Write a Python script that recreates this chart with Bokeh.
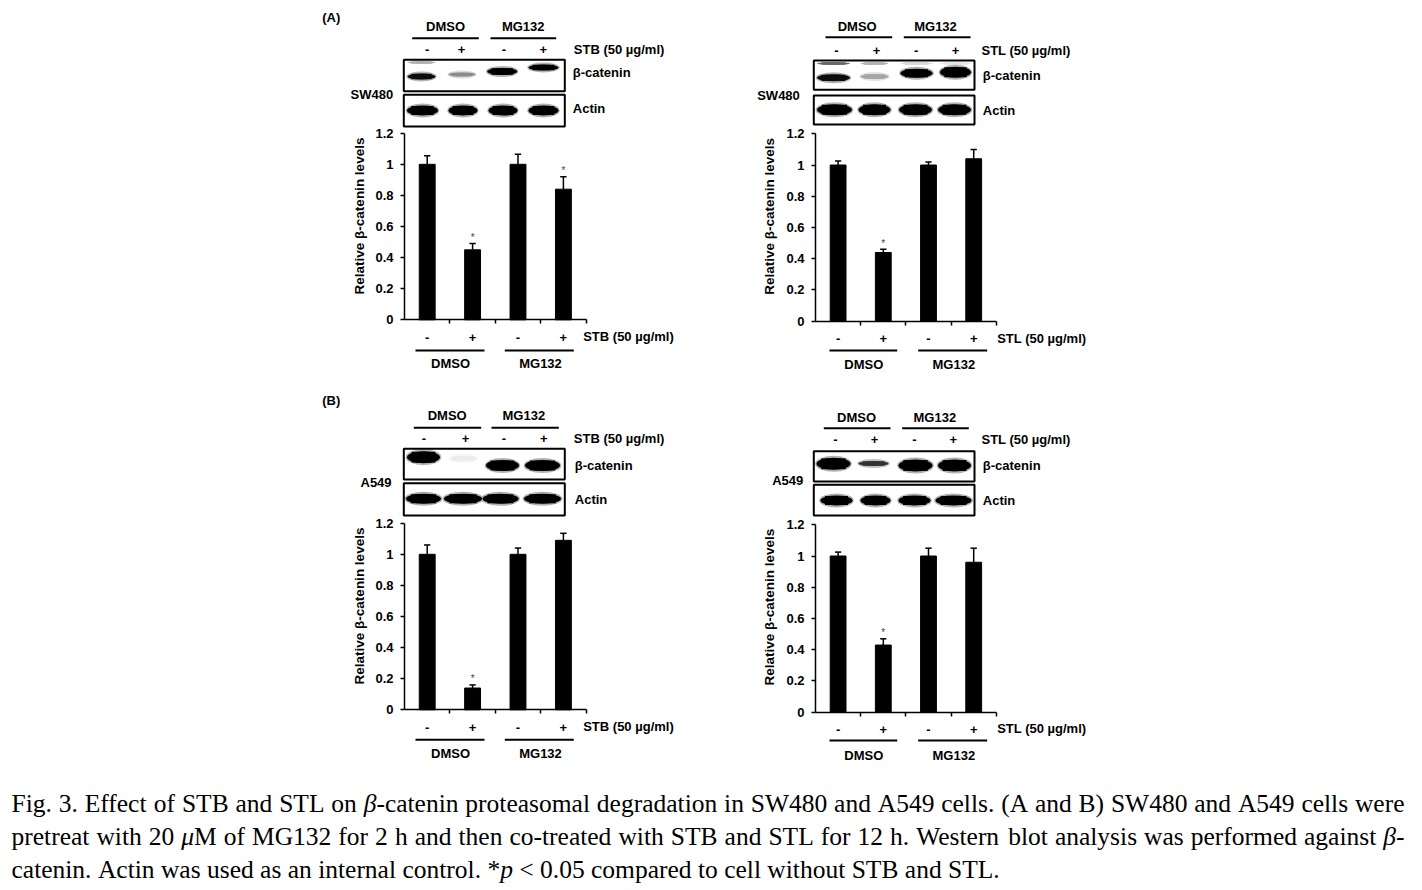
import math
from bokeh.plotting import figure
from bokeh.models import Range1d, LinearAxis, FixedTicker
from bokeh.core.properties import value
from bokeh.embed import file_html
from bokeh.resources import INLINE

# ====================== DATA ======================
treat_signs = ["-", "+", "-", "+"]
group_names = ["DMSO", "MG132"]
proteins = ["β-catenin", "Actin"]
y_label = "Relative β-catenin levels"
y_ticks = [0, 0.2, 0.4, 0.6, 0.8, 1.0, 1.2]
y_tick_labels = ["0", "0.2", "0.4", "0.6", "0.8", "1", "1.2"]

# relative beta-catenin levels, upper error bars, significance (*)
sw480_stb = [1.00, 0.45, 1.00, 0.84]
sw480_stb_err = [0.055, 0.04, 0.065, 0.08]
sw480_stb_sig = [False, True, False, True]

sw480_stl = [1.00, 0.44, 1.00, 1.04]
sw480_stl_err = [0.025, 0.02, 0.02, 0.06]
sw480_stl_sig = [False, True, False, False]

a549_stb = [1.00, 0.14, 1.00, 1.09]
a549_stb_err = [0.06, 0.02, 0.04, 0.045]
a549_stb_sig = [False, True, False, False]

a549_stl = [1.00, 0.43, 1.00, 0.96]
a549_stl_err = [0.025, 0.04, 0.05, 0.09]
a549_stl_sig = [False, True, False, False]

# western blot band intensities (0 = none, 1 = saturated)
sw480_stb_bcat = [0.95, 0.45, 1.0, 1.0]
sw480_stb_upper = [0.3, 0.0, 0.0, 0.0]
sw480_stb_actin = [1.0, 1.0, 1.0, 1.0]
sw480_stl_bcat = [0.95, 0.35, 1.0, 1.0]
sw480_stl_upper = [0.6, 0.3, 0.15, 0.1]
sw480_stl_actin = [1.0, 1.0, 1.0, 1.0]
a549_stb_bcat = [1.0, 0.07, 1.0, 1.0]
a549_stb_upper = [0.0, 0.0, 0.0, 0.0]
a549_stb_actin = [1.0, 1.0, 1.0, 1.0]
a549_stl_bcat = [1.0, 0.8, 1.0, 1.0]
a549_stl_upper = [0.0, 0.0, 0.0, 0.0]
a549_stl_actin = [1.0, 1.0, 1.0, 1.0]

caption_lines = [
    [("Fig. 3. Effect of STB and STL on ", "n"), ("β", "i"),
     ("-catenin proteasomal degradation in SW480 and A549 cells. (A and B) SW480 and A549 cells were", "n")],
    [("pretreat with 20 ", "n"), ("μ", "i"),
     ("M of MG132 for 2 h and then co-treated with STB and STL for 12 h. Western blot analysis was performed against ", "n"),
     ("β", "i"), ("-", "n")],
    [("catenin. Actin was used as an internal control. *", "n"), ("p", "i"),
     (" < 0.05 compared to cell without STB and STL.", "n")],
]
caption_justify = [True, True, False]

# ====================== LAYOUT ======================
FX0, FX1, FY0, FY1 = 0, 1420, 0, 888
W, H = FX1 - FX0, FY1 - FY0

p = figure(width=W, height=H, x_range=Range1d(FX0, FX1), y_range=Range1d(FY1, FY0),
           x_axis_type=None, y_axis_type=None, toolbar_location=None,
           output_backend="svg", min_border=0, outline_line_color=None, title=None)
p.background_fill_color = "white"
p.border_fill_color = "white"

SANS = value("Liberation Sans")
SERIF = value("Liberation Serif")


def label(xs, ys, texts, align="left", size="13px", style="bold", **kw):
    p.text(x=xs, y=ys, text=texts, text_font=SANS, text_font_size=size,
           text_font_style=style, text_align=align, text_baseline="middle",
           text_color="black", **kw)


def gray(i):
    g = int(round(255 * (1 - max(0.0, min(1.0, i)))))
    return "#%02x%02x%02x" % (g, g, g)


panels = [
    dict(key="A1", vals=sw480_stb, err=sw480_stb_err, sig=sw480_stb_sig,
         bcat=sw480_stb_bcat, upper=sw480_stb_upper, actin=sw480_stb_actin,
         cell="SW480", treat="STB (50 µg/ml)",
         tag="(A)", tag_xy=(321.7, 16.7), cell_xy=(350, 94),
         grp_y=26, grp_x=[445, 522.7], gl_y=37.7, glines=[(411.7, 478.3), (490, 555.7)],
         sign_y=49.3, sign_x=[426.7, 461, 503.3, 542.7], treat_xy=(573.3, 49.3),
         box_x=(403.3, 564.3), bbox=(59.3, 90.7), abox=(94.3, 126),
         prot_x=572.3, prot_y=[71.7, 108.3],
         b_x=[421, 461.5, 501.7, 543], b_w=[28, 27, 30, 30], b_y=[76, 74, 71, 67], b_h=[6, 4, 7, 6],
         u_y=62,
         a_x=[422, 462.5, 502.5, 543], a_w=[31, 29, 29, 30], a_y=[110] * 4, a_h=[10, 10, 10, 10],
         X0=404, cw=45.4, Y0=319.3, uh=155.5, ylab_xy=(359, 215.5),
         btreat_xy=(582.7, 336), bl_y=350, blines=[(415, 484), (504.3, 573.3)],
         bgrp_y=363.3, bgrp_x=[450, 540]),
    dict(key="A2", vals=sw480_stl, err=sw480_stl_err, sig=sw480_stl_sig,
         bcat=sw480_stl_bcat, upper=sw480_stl_upper, actin=sw480_stl_actin,
         cell="SW480", treat="STL (50 µg/ml)",
         tag=None, tag_xy=None, cell_xy=(756.7, 95),
         grp_y=26, grp_x=[856.7, 935], gl_y=36.7, glines=[(825, 891.7), (903.3, 970)],
         sign_y=50, sign_x=[836, 876, 915.7, 955], treat_xy=(981, 50),
         box_x=(813.3, 974), bbox=(60, 89.3), abox=(95, 124),
         prot_x=982.3, prot_y=[75, 110],
         b_x=[833, 874, 916, 955], b_w=[33, 28, 32, 31], b_y=[77.3, 76, 72.7, 71.7], b_h=[7, 5, 9, 11],
         u_y=63,
         a_x=[834, 874, 915, 954], a_w=[35, 32, 33, 33], a_y=[109.3] * 4, a_h=[11, 11, 11, 11],
         X0=815, cw=45.2, Y0=320.7, uh=156.2, ylab_xy=(769, 215.8),
         btreat_xy=(996.7, 338.3), bl_y=350, blines=[(829, 896.7), (917.7, 986.7)],
         bgrp_y=364.3, bgrp_x=[863.3, 953.3]),
    dict(key="B1", vals=a549_stb, err=a549_stb_err, sig=a549_stb_sig,
         bcat=a549_stb_bcat, upper=a549_stb_upper, actin=a549_stb_actin,
         cell="A549", treat="STB (50 µg/ml)",
         tag="(B)", tag_xy=(321.7, 400), cell_xy=(360, 481.7),
         grp_y=415, grp_x=[446.7, 523.3], gl_y=427.3, glines=[(413.3, 480.7), (491, 558.3)],
         sign_y=438.3, sign_x=[423.3, 465, 503.3, 543.3], treat_xy=(573.3, 438.3),
         box_x=(403.3, 564.3), bbox=(448.3, 479), abox=(482.7, 515),
         prot_x=574.3, prot_y=[465, 499.3],
         b_x=[423, 463, 502, 542], b_w=[33, 28, 33, 35], b_y=[456.7, 458, 465, 465], b_h=[12, 6, 11, 11],
         u_y=451,
         a_x=[423, 462.5, 500, 542], a_w=[35, 38, 36, 37], a_y=[498.3] * 4, a_h=[10, 10, 10, 10],
         X0=404, cw=45.4, Y0=709.3, uh=155.5, ylab_xy=(359, 605.5),
         btreat_xy=(582.7, 726), bl_y=739.3, blines=[(415, 484), (504.3, 573.3)],
         bgrp_y=753.3, bgrp_x=[450, 540]),
    dict(key="B2", vals=a549_stl, err=a549_stl_err, sig=a549_stl_sig,
         bcat=a549_stl_bcat, upper=a549_stl_upper, actin=a549_stl_actin,
         cell="A549", treat="STL (50 µg/ml)",
         tag=None, tag_xy=None, cell_xy=(771.7, 480),
         grp_y=416.7, grp_x=[856, 934.3], gl_y=427.7, glines=[(823.3, 890), (901.7, 968.3)],
         sign_y=439, sign_x=[835, 874, 914, 952.7], treat_xy=(981, 439),
         box_x=(813.3, 974), bbox=(450.7, 481), abox=(484.3, 515),
         prot_x=982.3, prot_y=[465, 500],
         b_x=[833, 873, 915, 954], b_w=[34, 30, 34, 33], b_y=[463.3, 463, 465, 465], b_h=[12, 5, 12, 12],
         u_y=453,
         a_x=[836, 875, 914, 953], a_w=[32, 30, 32, 36], a_y=[500] * 4, a_h=[10, 10, 10, 10],
         X0=815, cw=45.2, Y0=711.7, uh=156.2, ylab_xy=(769, 606.7),
         btreat_xy=(996.7, 728.3), bl_y=740, blines=[(829, 896.7), (917.7, 986.7)],
         bgrp_y=755, bgrp_x=[863.3, 953.3]),
]

n_cat = len(treat_signs)
cat_x = [i + 0.5 for i in range(n_cat)]
cat_edges = [i + 1 for i in range(n_cat)]

ex_x, ex_y = {}, {}
for pn in panels:
    X0, cw, Y0, uh = pn["X0"], pn["cw"], pn["Y0"], pn["uh"]
    ex_x[pn["key"] + "x"] = Range1d((FX0 - X0) / cw, (FX1 - X0) / cw)
    ex_y[pn["key"] + "y"] = Range1d((Y0 - FY1) / uh, (Y0 - FY0) / uh)
p.extra_x_ranges = ex_x
p.extra_y_ranges = ex_y


def draw_bands(xs, ys, ws, hs, inten, halo_on=True):
    keep = [k for k, i in enumerate(inten) if i > 0]
    xs = [xs[k] for k in keep]; ys = [ys[k] for k in keep]
    ws = [ws[k] for k in keep]; hs = [hs[k] for k in keep]
    inten = [inten[k] for k in keep]
    if not xs:
        return
    core = [gray(i) for i in inten]
    if halo_on:
        halo = [gray(i * 0.3) for i in inten]
        p.ellipse(x=xs, y=ys, width=[w * 1.08 for w in ws], height=[h + 4 for h in hs],
                  fill_color=halo, line_color=None)
    p.ellipse(x=xs, y=ys, width=ws, height=hs, fill_color=core, line_color=None)
    p.rect(x=xs, y=ys, width=[w * 0.72 for w in ws], height=[h * 0.9 for h in hs],
           fill_color=core, line_color=None)


for pn in panels:
    xn, yn = pn["key"] + "x", pn["key"] + "y"

    # ---------- blot header ----------
    if pn["tag"]:
        label([pn["tag_xy"][0]], [pn["tag_xy"][1]], [pn["tag"]])
    label([pn["cell_xy"][0]], [pn["cell_xy"][1]], [pn["cell"]])
    label(pn["grp_x"], [pn["grp_y"]] * 2, group_names, align="center")
    p.segment(x0=[a for a, b in pn["glines"]], x1=[b for a, b in pn["glines"]],
              y0=[pn["gl_y"]] * 2, y1=[pn["gl_y"]] * 2, line_color="black", line_width=2)
    label(pn["sign_x"], [pn["sign_y"]] * 4, treat_signs, align="center")
    label([pn["treat_xy"][0]], [pn["treat_xy"][1]], [pn["treat"]])
    label([pn["prot_x"]] * 2, pn["prot_y"], proteins)

    bl, br = pn["box_x"]
    tops = [pn["bbox"][0], pn["abox"][0]]
    bots = [pn["bbox"][1], pn["abox"][1]]
    p.quad(left=[bl, bl], right=[br, br], top=tops, bottom=bots,
           fill_color="white", line_color=None)
    draw_bands(pn["b_x"], [pn["u_y"]] * 4, pn["b_w"], [3] * 4, pn["upper"], halo_on=False)
    draw_bands(pn["b_x"], pn["b_y"], pn["b_w"], pn["b_h"], pn["bcat"])
    draw_bands(pn["a_x"], pn["a_y"], pn["a_w"], pn["a_h"], pn["actin"])
    p.quad(left=[bl, bl], right=[br, br], top=tops, bottom=bots,
           fill_color=None, line_color="black", line_width=2)

    # ---------- bar chart ----------
    vals, err, sig = pn["vals"], pn["err"], pn["sig"]
    hi = [v + e for v, e in zip(vals, err)]
    p.vbar(x=cat_x, top=vals, bottom=0, width=0.35, fill_color="black", line_color="black",
           x_range_name=xn, y_range_name=yn)
    p.segment(x0=cat_x, x1=cat_x, y0=vals, y1=hi, line_color="black", line_width=1.5,
              x_range_name=xn, y_range_name=yn)
    p.segment(x0=[c - 0.07 for c in cat_x], x1=[c + 0.07 for c in cat_x], y0=hi, y1=hi,
              line_color="black", line_width=1.5, x_range_name=xn, y_range_name=yn)
    sx = [c for c, s in zip(cat_x, sig) if s]
    sy = [h for h, s in zip(hi, sig) if s]
    p.text(x=sx, y=sy, text=["*"] * len(sx), text_font=SANS, text_font_size="10px",
           text_align="center", text_baseline="middle", y_offset=-6, text_color="#444444",
           x_range_name=xn, y_range_name=yn)

    yax = LinearAxis(x_range_name=xn, y_range_name=yn, fixed_location=0, bounds=(0, 1.2),
                     ticker=FixedTicker(ticks=y_ticks),
                     major_label_overrides=dict(zip(y_ticks, y_tick_labels)),
                     major_tick_in=0, major_tick_out=4, minor_tick_in=0, minor_tick_out=0,
                     major_label_standoff=7, axis_line_width=1.5, major_tick_line_width=1.5,
                     major_label_text_font="Liberation Sans", major_label_text_font_style="bold",
                     major_label_text_font_size="13px", major_label_text_color="black")
    p.add_layout(yax, "left")
    xax = LinearAxis(x_range_name=xn, y_range_name=yn, fixed_location=0, bounds=(0, n_cat),
                     ticker=FixedTicker(ticks=cat_x, minor_ticks=cat_edges),
                     major_label_overrides=dict(zip(cat_x, treat_signs)),
                     major_tick_in=0, major_tick_out=0, minor_tick_in=0, minor_tick_out=4,
                     major_label_standoff=9, axis_line_width=1.5, minor_tick_line_width=1.5,
                     major_label_text_font="Liberation Sans", major_label_text_font_style="bold",
                     major_label_text_font_size="13px", major_label_text_color="black")
    p.add_layout(xax, "below")

    label([pn["ylab_xy"][0]], [pn["ylab_xy"][1]], [y_label], align="center",
          size="13.5px", angle=math.pi / 2)

    # ---------- labels under chart ----------
    label([pn["btreat_xy"][0]], [pn["btreat_xy"][1]], [pn["treat"]])
    p.segment(x0=[a for a, b in pn["blines"]], x1=[b for a, b in pn["blines"]],
              y0=[pn["bl_y"]] * 2, y1=[pn["bl_y"]] * 2, line_color="black", line_width=2)
    label(pn["bgrp_x"], [pn["bgrp_y"]] * 2, group_names, align="center")

# ====================== CAPTION ======================
TW = {" ": 250, "!": 333, "(": 333, ")": 333, "*": 500, "+": 564, ",": 250, "-": 333,
      ".": 250, "/": 278, ":": 278, ";": 278, "<": 564, "=": 564, ">": 564,
      "A": 722, "B": 667, "C": 667, "D": 722, "E": 611, "F": 556, "G": 722, "H": 722,
      "I": 333, "J": 389, "K": 722, "L": 611, "M": 889, "N": 722, "O": 722, "P": 556,
      "Q": 722, "R": 667, "S": 556, "T": 611, "U": 722, "V": 722, "W": 944, "X": 722,
      "Y": 722, "Z": 611,
      "a": 444, "b": 500, "c": 444, "d": 500, "e": 444, "f": 333, "g": 500, "h": 500,
      "i": 278, "j": 278, "k": 500, "l": 278, "m": 778, "n": 500, "o": 500, "p": 500,
      "q": 500, "r": 333, "s": 389, "t": 278, "u": 500, "v": 500, "w": 722, "x": 500,
      "y": 500, "z": 444, "β": 500, "μ": 500}
for d in "0123456789":
    TW[d] = 500

cap_fs = 25.5
cap_left, cap_right = 11.0, 1404.0
cap_base = [803, 836, 869]


def tw(s):
    return sum(TW.get(ch, 500) for ch in s) / 1000.0 * cap_fs


norm_x, norm_y, norm_t = [], [], []
ital_x, ital_y, ital_t = [], [], []
for li, line in enumerate(caption_lines):
    words = [[]]
    for txt, sty in line:
        parts = txt.split(" ")
        for k, part in enumerate(parts):
            if k > 0:
                words.append([])
            if part:
                words[-1].append((part, sty))
    words = [w for w in words if w]
    wsum = sum(tw(part) for w in words for part, _ in w)
    if caption_justify[li]:
        gap = (cap_right - cap_left - wsum) / (len(words) - 1)
    else:
        gap = TW[" "] / 1000.0 * cap_fs
    x = cap_left
    for w in words:
        for part, sty in w:
            if sty == "i":
                ital_x.append(x); ital_y.append(cap_base[li]); ital_t.append(part)
            else:
                norm_x.append(x); norm_y.append(cap_base[li]); norm_t.append(part)
            x += tw(part)
        x += gap

p.text(x=norm_x, y=norm_y, text=norm_t, text_font=SERIF, text_font_size="25.5px",
       text_align="left", text_baseline="alphabetic", text_color="black")
p.text(x=ital_x, y=ital_y, text=ital_t, text_font=SERIF, text_font_size="25.5px",
       text_font_style="italic", text_align="left", text_baseline="alphabetic",
       text_color="black")

open("out.html", "w").write(file_html(p, INLINE))
